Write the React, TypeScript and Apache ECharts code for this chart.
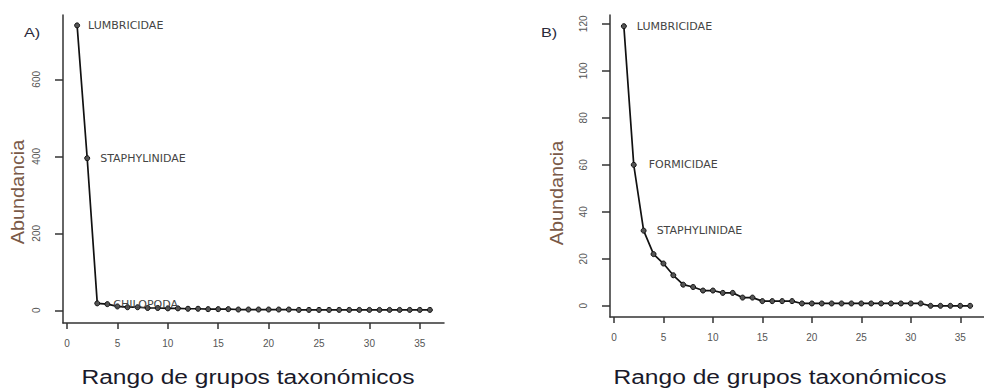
import React, { useEffect, useRef } from "react";
import * as echarts from "echarts";

// Panel A: abundance by rank (36 taxonomic groups)
const valuesA = [740, 395, 18, 16, 10, 8, 8, 6, 6, 5, 5, 4, 4, 3, 3, 3, 2, 2, 2, 2, 2, 2, 1, 1, 1, 1, 1, 1, 1, 1, 1, 1, 1, 1, 1, 1];
const labelsA: Record<number, string> = { 0: "LUMBRICIDAE", 1: "STAPHYLINIDAE", 3: "CHILOPODA" };
const labelGapA: Record<number, number> = { 0: 8, 1: 10, 3: 3 };

// Panel B
const valuesB = [119, 60, 32, 22, 18, 13, 9, 8, 6.5, 6.5, 5.5, 5.5, 3.5, 3.5, 2, 2, 2, 2, 1, 1, 1, 1, 1, 1, 1, 1, 1, 1, 1, 1, 1, 0, 0, 0, 0, 0];
const labelsB: Record<number, string> = { 0: "LUMBRICIDAE", 1: "FORMICIDAE", 2: "STAPHYLINIDAE" };
const labelGapB: Record<number, number> = { 0: 10, 1: 12, 2: 10 };

const xTicks = [0, 5, 10, 15, 20, 25, 30, 35];
const yTicksA = [0, 200, 400, 600];
const yTicksB = [0, 20, 40, 60, 80, 100, 120];

const xTitle = "Rango de grupos taxonómicos";
const yTitle = "Abundancia";

const tickFont = { fontFamily: "Liberation Sans", fontSize: 10, color: "#555" };
const axisLineStyle = { color: "#333", width: 1.5 };

function buildData(values: number[], labels: Record<number, string>, gaps: Record<number, number>) {
  return values.map((v, i) => {
    const item: any = { value: [i + 1, v] };
    if (labels[i]) {
      item.label = {
        show: true,
        position: "right",
        distance: gaps[i],
        formatter: labels[i],
        fontFamily: "DejaVu Sans",
        fontSize: 11,
        color: "#444",
      };
    }
    return item;
  });
}

function xAxis(gridIndex: number) {
  return {
    type: "value",
    gridIndex,
    min: -0.4,
    max: 37.4,
    splitLine: { show: false },
    axisLine: { show: true, onZero: false, lineStyle: axisLineStyle },
    axisTick: { show: true, length: 6, customValues: xTicks, lineStyle: axisLineStyle },
    axisLabel: { show: true, margin: 15, customValues: xTicks, ...tickFont },
  };
}

function yAxis(gridIndex: number, min: number, max: number, ticks: number[]) {
  return {
    type: "value",
    gridIndex,
    min,
    max,
    splitLine: { show: false },
    axisLine: { show: true, onZero: false, lineStyle: axisLineStyle },
    axisTick: { show: true, length: 8, customValues: ticks, lineStyle: axisLineStyle },
    axisLabel: { show: true, margin: 22, rotate: 90, customValues: ticks, ...tickFont },
  };
}

const seriesBase = {
  type: "line",
  symbol: "circle",
  symbolSize: 5,
  lineStyle: { color: "#111", width: 1.7 },
  itemStyle: { color: "#555", borderColor: "#111", borderWidth: 1 },
  clip: false,
};

function sideText(text: string, x: number, y: number, size: number, color: string, opts: any = {}) {
  return {
    type: "text",
    x,
    y,
    ...opts,
    style: {
      text,
      fontFamily: "Liberation Sans",
      fontSize: size,
      fill: color,
      align: "center",
      verticalAlign: "middle",
    },
  };
}

export default function App() {
  const ref = useRef<HTMLDivElement>(null);
  useEffect(() => {
    if (!ref.current) return;
    const chart = echarts.init(ref.current, undefined, { renderer: "svg" });
    chart.setOption({
      animation: false,
      backgroundColor: "#fff",
      grid: [
        { left: 63, top: 15, width: 381, height: 308 },
        { left: 610, top: 15, width: 393, height: 302 },
      ],
      xAxis: [xAxis(0), xAxis(1)],
      yAxis: [yAxis(0, -33, 767, yTicksA), yAxis(1, -4.76, 123.76, yTicksB)],
      series: [
        { ...seriesBase, xAxisIndex: 0, yAxisIndex: 0, data: buildData(valuesA, labelsA, labelGapA) },
        { ...seriesBase, xAxisIndex: 1, yAxisIndex: 1, data: buildData(valuesB, labelsB, labelGapB) },
      ],
      graphic: [
        sideText("A)", 32, 33, 13, "#2a2a3a", { scaleX: 1.25 }),
        sideText("B)", 549, 33, 13, "#2a2a3a", { scaleX: 1.25 }),
        sideText(yTitle, 18, 192, 18, "#7a5a48", { rotation: Math.PI / 2, scaleX: 1.1 }),
        sideText(yTitle, 557, 193, 18, "#7a5a48", { rotation: Math.PI / 2, scaleX: 1.1 }),
        sideText(xTitle, 248, 377, 21, "#1a1a2a", { scaleX: 1.17 }),
        sideText(xTitle, 780, 377, 21, "#1a1a2a", { scaleX: 1.17 }),
      ],
    });
    return () => chart.dispose();
  }, []);
  return <div ref={ref} style={{ width: 984, height: 388, position: "absolute", left: 0, top: 0 }} />;
}
